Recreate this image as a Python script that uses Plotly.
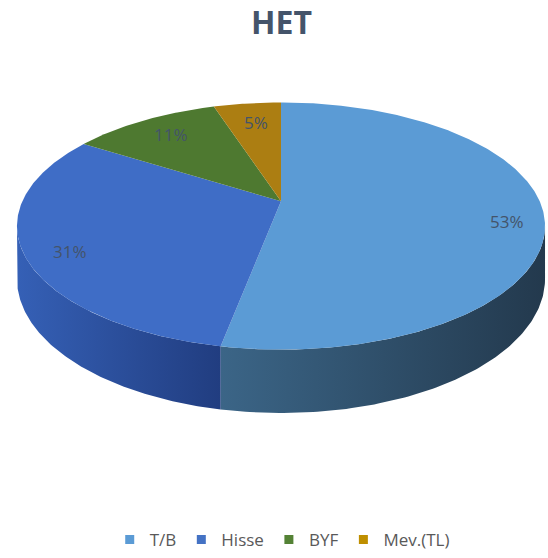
import numpy as np
import plotly.graph_objects as go

# ---- data ----
categories = ["T/B", "Hisse", "BYF", "Mev.(TL)"]
values = [53, 31, 11, 5]
labels = ["53%", "31%", "11%", "5%"]

# ---- style ----
top_colors = ["#5B9BD5", "#3F6DC6", "#4E7930", "#AC7E12"]
legend_colors = ["#5B9BD5", "#4472C4", "#548235", "#BF8F00"]
side_gradients = {
    0: ["#3B6587", "#23394D"],
    1: ["#3560B6", "#213D80"],
    2: ["#3C5E25", "#2E4A1C"],
    3: ["#8A6510", "#6E500C"],
}
label_radius = [0.865, 0.83, 0.78, 0.70]
label_dy = [10, 8, -2, -7]

# geometry of the tilted disc with perspective (pixel space of the axis)
CX, CY, RX, RY, PERSP, DEPTH0 = 281, 202.4, 258.7, 119.3, 0.2, 51


def pt(theta_deg, r=1.0, depth=False):
    t = np.radians(theta_deg)
    s = 1.0 / (1.0 + PERSP * r * np.cos(t))
    x = CX + RX * r * np.sin(t) * s
    y = CY - RY * r * np.cos(t) * s
    if depth:
        y = y + DEPTH0 * s
    return x, y


total = sum(values)
bounds = np.concatenate([[0], np.cumsum(values) / total * 360.0])

# silhouette of the cylinder: where the rim is widest
side_lo = float(np.degrees(np.arccos(-PERSP)))
side_hi = 360 - side_lo

fig = go.Figure()

# side walls (front half only)
for i in range(len(values)):
    a0, a1 = bounds[i], bounds[i + 1]
    s0, s1 = max(a0, side_lo), min(a1, side_hi)
    if s1 <= s0:
        continue
    th = np.linspace(s0, s1, 120)
    xt, yt = pt(th)
    xb, yb = pt(th[::-1], depth=True)
    xs = np.concatenate([xt, xb, xt[:1]])
    ys = np.concatenate([yt, yb, yt[:1]])
    fig.add_trace(go.Scatter(
        x=xs, y=ys, mode="lines", fill="toself",
        line=dict(width=0),
        fillgradient=dict(type="horizontal",
                          colorscale=[[0, side_gradients[i][0]], [1, side_gradients[i][1]]]),
        showlegend=False, hoverinfo="skip"))

# top faces
for i in range(len(values)):
    a0, a1 = bounds[i], bounds[i + 1]
    th = np.linspace(a0, a1, max(int((a1 - a0) * 2), 8))
    xa, ya = pt(th)
    xs = np.concatenate([[CX], xa, [CX]])
    ys = np.concatenate([[CY], ya, [CY]])
    fig.add_trace(go.Scatter(
        x=xs, y=ys, mode="lines", fill="toself",
        fillcolor=top_colors[i], line=dict(width=0),
        showlegend=False, hoverinfo="skip"))

# legend entries (square swatches)
for i in range(len(values)):
    fig.add_trace(go.Scatter(
        x=[None], y=[None], mode="markers", name=categories[i],
        marker=dict(symbol="square", size=9, color=legend_colors[i]),
        showlegend=True, hoverinfo="skip"))

# data labels
for i in range(len(values)):
    mid = float((bounds[i] + bounds[i + 1]) / 2)
    lx, ly = pt(mid, r=label_radius[i])
    fig.add_annotation(x=float(lx), y=float(ly) + label_dy[i], text=labels[i], showarrow=False,
                       xanchor="center", yanchor="middle",
                       font=dict(family="Open Sans, Liberation Sans", size=17, color="#44546A"))

fig.add_annotation(x=281, y=22, text="<b>HET</b>", showarrow=False,
                   xanchor="center", yanchor="middle",
                   font=dict(family="Open Sans, Liberation Sans", size=32, color="#44546A"))

fig.update_layout(
    width=548, height=558,
    margin=dict(l=0, r=0, t=0, b=0),
    paper_bgcolor="white", plot_bgcolor="white",
    xaxis=dict(range=[0, 548], visible=False, fixedrange=True),
    yaxis=dict(range=[558, 0], visible=False, fixedrange=True),
    legend=dict(orientation="h", x=0.515, xanchor="center", y=(558 - 543) / 558, yanchor="middle",
                font=dict(family="Open Sans, Liberation Sans", size=17, color="#595959"),
                itemwidth=30, traceorder="normal"),
)

fig.write_html("out.html", config={"displayModeBar": False},
               post_script="document.body.style.margin='0';")
